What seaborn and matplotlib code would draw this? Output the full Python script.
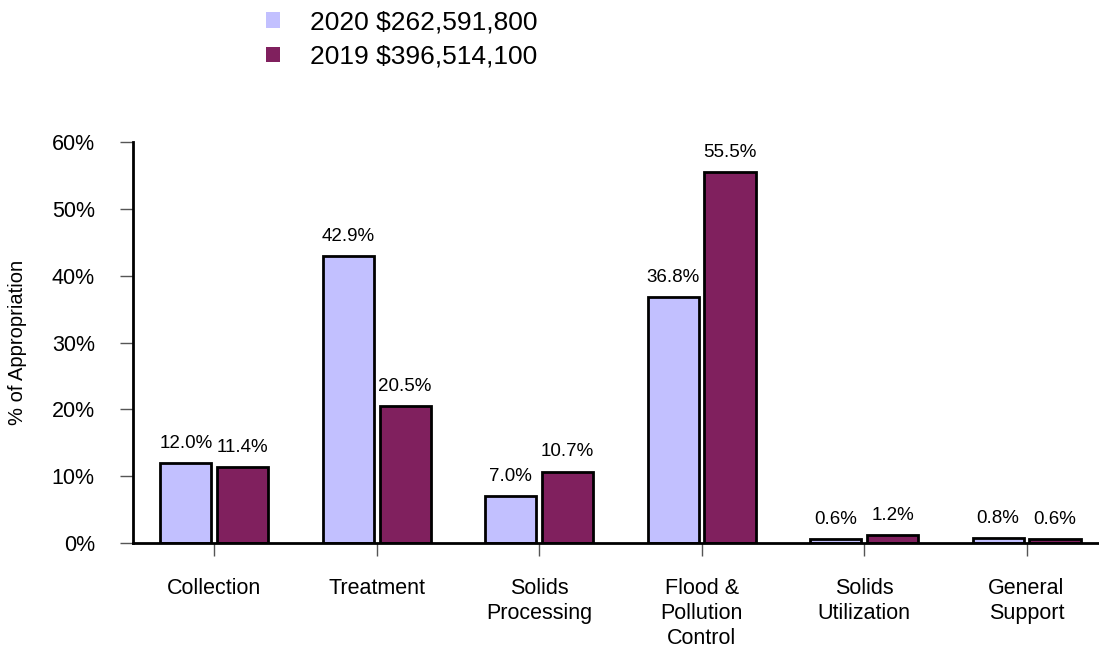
import pandas as pd
import matplotlib.pyplot as plt
import seaborn as sns
from matplotlib.ticker import FuncFormatter
from matplotlib.patches import Patch

# Data
categories = ["Collection", "Treatment", "Solids\nProcessing", "Flood &\nPollution\nControl",
              "Solids\nUtilization", "General\nSupport"]
series_names = ["2020 $262,591,800", "2019 $396,514,100"]
values_2020 = [12.0, 42.9, 7.0, 36.8, 0.6, 0.8]
values_2019 = [11.4, 20.5, 10.7, 55.5, 1.2, 0.6]
colors = ["#C2C0FF", "#80205E"]

df = pd.DataFrame({
    "category": categories * 2,
    "series": [series_names[0]] * len(categories) + [series_names[1]] * len(categories),
    "value": values_2020 + values_2019,
})

sns.set_theme(style="white")
plt.rcParams['font.family'] = ['Liberation Sans', 'DejaVu Sans']
plt.rcParams['text.color'] = 'black'
plt.rcParams['axes.labelcolor'] = 'black'

fig = plt.figure(figsize=(10.99, 6.47), dpi=100)
ax = fig.add_axes([0.121, 0.1607, 0.887, 0.6198])

sns.barplot(data=df, x="category", y="value", hue="series", palette=colors, saturation=1,
            width=0.7, gap=0.1, edgecolor="black", linewidth=2, ax=ax, legend=False)

for cont in ax.containers:
    ax.bar_label(cont, fmt="%.1f%%", padding=8, fontsize=13.5, color="black")

ax.set_ylim(0, 60)
ax.set_xlim(-0.5, 5.5)
ax.set_yticks(range(0, 61, 10))
ax.yaxis.set_major_formatter(FuncFormatter(lambda v, p: f"{v:.0f}%"))
ax.set_xlabel("")
ax.set_ylabel("% of Appropriation", fontsize=14.5)
ax.yaxis.set_label_coords(-0.109, 0.5)

for s in ["top", "right"]:
    ax.spines[s].set_visible(False)
for s in ["left", "bottom"]:
    ax.spines[s].set_color("black")
    ax.spines[s].set_linewidth(2)

ax.tick_params(axis="y", which="major", left=True, length=9.5, width=1, color="#555555",
               labelsize=15.5, labelcolor="black", pad=18)
ax.tick_params(axis="x", which="major", bottom=True, length=9.5, width=1, color="#555555",
               labelsize=15.5, labelcolor="black", pad=16)
ax.set_xticks(range(len(categories)))
ax.set_xticklabels(categories, linespacing=1.24)

handles = [Patch(facecolor=c, edgecolor="none") for c in colors]
fig.legend(handles, series_names, loc="upper left", bbox_to_anchor=(0.22, 1.021),
           frameon=False, fontsize=19, handlelength=0.53, handleheight=0.53,
           handletextpad=1.15, labelspacing=0.4)

fig.savefig("out.png", dpi=100)
